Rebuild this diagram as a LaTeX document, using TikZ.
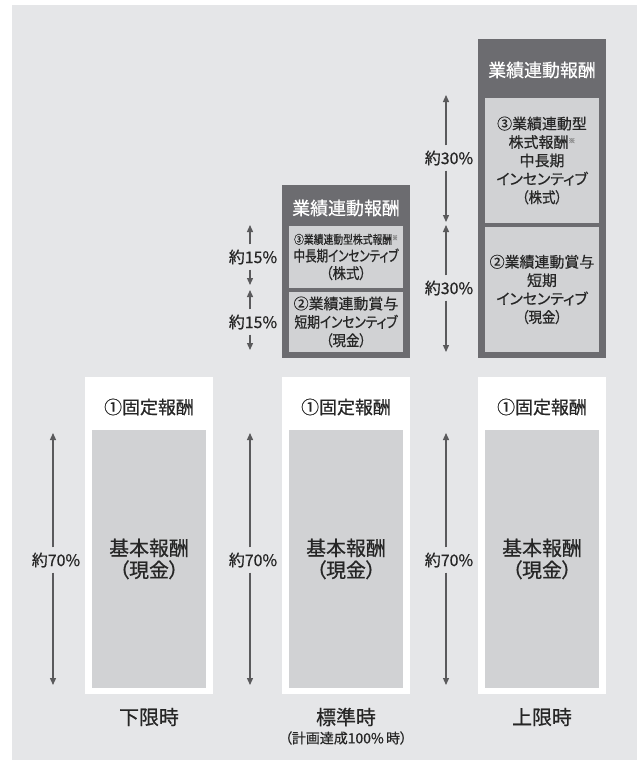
\documentclass[tikz,border=0pt]{standalone}
\usepackage{fontspec}
\setmainfont{Noto Sans CJK JP}[RawFeature=+palt, FakeBold=0.6]
\usetikzlibrary{arrows.meta}
\definecolor{bggrey}{HTML}{E5E6E8}
\definecolor{darkbox}{HTML}{6C6C70}
\definecolor{innergrey}{HTML}{D1D2D4}
\definecolor{txt}{HTML}{262626}
\definecolor{arrowc}{HTML}{5A5A5C}
\newcommand{\fs}[1]{\fontsize{#1}{#1}\selectfont}
\newcommand{\fsl}[2]{\fontsize{#1}{#2}\selectfont}
\newcommand{\hsq}[2]{\scalebox{#1}[1]{#2}}
\newcommand{\kome}{\raisebox{0.55ex}{\fs{7}\color{gray}※}}
\tikzset{
  whitebox/.style={fill=white, inner sep=0pt, minimum width=128bp},
  darkrect/.style={fill=darkbox, inner sep=0pt, minimum width=128bp},
  innerbox/.style={fill=innergrey, inner sep=0pt, minimum width=114bp, text=txt, align=center},
  title/.style={text=txt, font=\fs{18}, inner sep=0pt},
  dtitle/.style={text=white, font=\fs{18}, inner sep=0pt},
  basetxt/.style={font=\fsl{20}{22}},
  boxtxt/.style={font=\fsl{15}{18.5}},
  pct/.style={text=txt, font=\fs{16}, inner xsep=0pt, inner ysep=5bp, fill=bggrey},
  caption/.style={text=txt, font=\fs{20}, inner sep=0pt},
  arr/.style={draw=arrowc, line width=1.3bp, -{Triangle[length=7bp,width=6bp]}}
}
\begin{document}
\begin{tikzpicture}[x=1bp,y=-1bp]
\useasboundingbox (0,0) rectangle (637,760);
\fill[white] (0,0) rectangle (637,760);
\fill[bggrey] (12,5) rectangle (637,760);

% ---- fixed pay boxes
\node[whitebox, minimum height=317bp] (w1) at (149,535.5) {};
\node[whitebox, minimum height=317bp] (w2) at (346,535.5) {};
\node[whitebox, minimum height=317bp] (w3) at (542,535.5) {};
\node[innerbox, minimum height=258bp, basetxt] (b1) at (149,559) {基本報酬\\（現金）};
\node[innerbox, minimum height=258bp, basetxt] (b2) at (346,559) {基本報酬\\（現金）};
\node[innerbox, minimum height=258bp, basetxt] (b3) at (542,559) {基本報酬\\（現金）};
\node[title] (f1) at (149,407) {①固定報酬};
\node[title] (f2) at (346,407) {①固定報酬};
\node[title] (f3) at (542,407) {①固定報酬};

% ---- variable pay, standard
\node[darkrect, minimum height=173bp] (d2) at (346,271.5) {};
\node[dtitle] (t2) at (346,208) {業績連動報酬};
\node[innerbox, minimum height=62bp, font=\fsl{15}{17.5}] (s2) at (346,257)
  {\hsq{0.82}{\fs{12}③業績連動型株式報酬\kome}\\\hsq{0.77}{中長期インセンティブ}\\\hsq{0.9}{（株式）}};
\node[innerbox, minimum height=60bp, boxtxt] (c2) at (346,322)
  {②業績連動賞与\\\hsq{0.85}{短期インセンティブ}\\\hsq{0.9}{（現金）}};

% ---- variable pay, maximum
\node[darkrect, minimum height=319bp] (d3) at (542,198.5) {};
\node[dtitle] (t3) at (542,70) {業績連動報酬};
\node[innerbox, minimum height=125bp, boxtxt] (s3) at (542,160.5)
  {③業績連動型\\株式報酬\kome\\中長期\\インセンティブ\\\hsq{0.9}{（株式）}};
\node[innerbox, minimum height=125bp, boxtxt] (c3) at (542,289.5)
  {②業績連動賞与\\短期\\インセンティブ\\\hsq{0.9}{（現金）}};

% ---- arrows
\coordinate (a1t) at (53,433); \coordinate (a1b) at (53,685);
\node[pct] (p1) at (56,560) {約70\%};
\draw[arr] (p1.north -| a1t) -- (a1t);
\draw[arr] (p1.south -| a1b) -- (a1b);

\coordinate (a2t) at (250,433); \coordinate (a2b) at (250,685);
\node[pct] (p2) at (253,560) {約70\%};
\draw[arr] (p2.north -| a2t) -- (a2t);
\draw[arr] (p2.south -| a2b) -- (a2b);

\coordinate (a3t) at (446,433); \coordinate (a3b) at (446,685);
\node[pct] (p3) at (449,560) {約70\%};
\draw[arr] (p3.north -| a3t) -- (a3t);
\draw[arr] (p3.south -| a3b) -- (a3b);

\coordinate (a4t) at (250,225); \coordinate (a4b) at (250,285);
\node[pct] (p4) at (253,257) {約15\%};
\draw[arr] (p4.north -| a4t) -- (a4t);
\draw[arr] (p4.south -| a4b) -- (a4b);

\coordinate (a5t) at (250,290); \coordinate (a5b) at (250,350);
\node[pct] (p5) at (253,322) {約15\%};
\draw[arr] (p5.north -| a5t) -- (a5t);
\draw[arr] (p5.south -| a5b) -- (a5b);

\coordinate (a6t) at (446,95); \coordinate (a6b) at (446,222);
\node[pct] (p6) at (449,158) {約30\%};
\draw[arr] (p6.north -| a6t) -- (a6t);
\draw[arr] (p6.south -| a6b) -- (a6b);

\coordinate (a7t) at (446,225); \coordinate (a7b) at (446,352);
\node[pct] (p7) at (449,288) {約30\%};
\draw[arr] (p7.north -| a7t) -- (a7t);
\draw[arr] (p7.south -| a7b) -- (a7b);

% ---- captions
\node[caption] (k1) at (149,717) {下限時};
\node[caption] (k2) at (346,717) {標準時};
\node[text=txt, font=\fs{14}, inner sep=0pt] (k2s) at (346,738) {（計画達成100\%\,時）};
\node[caption] (k3) at (542,717) {上限時};
\end{tikzpicture}
\end{document}
